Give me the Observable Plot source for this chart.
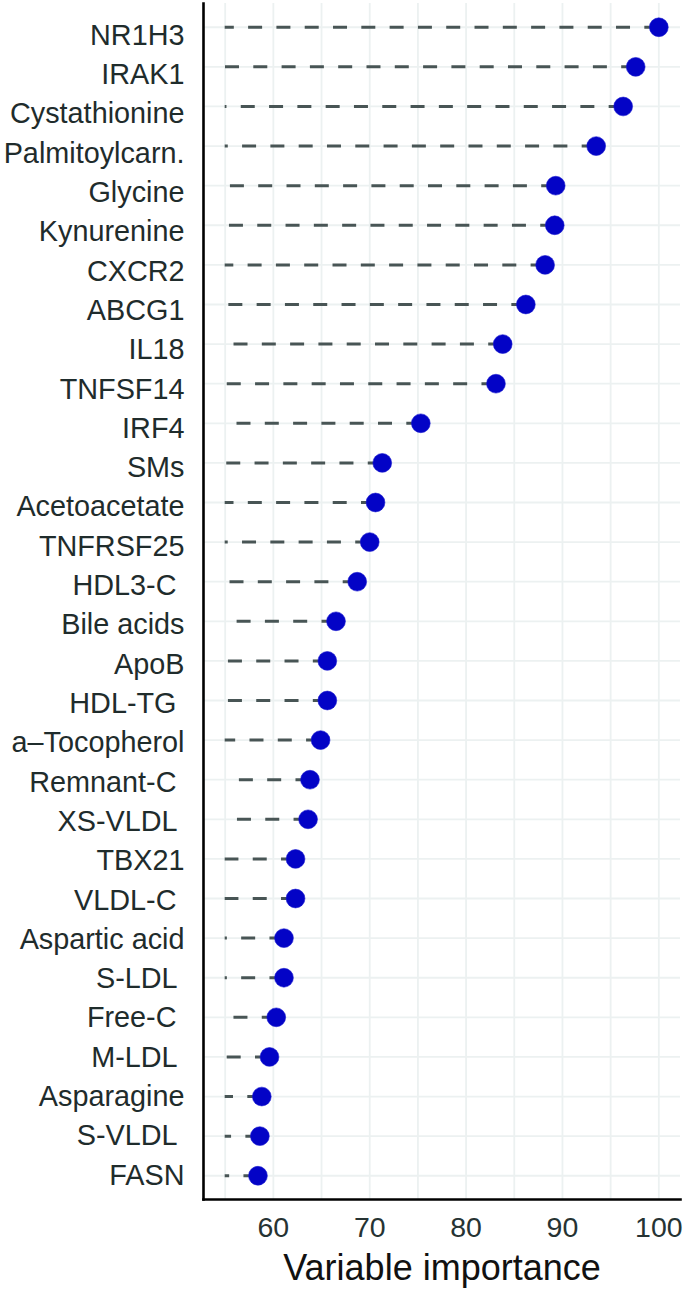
<!DOCTYPE html>
<html>
<head>
<meta charset="utf-8">
<script src="https://cdn.jsdelivr.net/npm/d3@7"></script>
<script src="https://cdn.jsdelivr.net/npm/@observablehq/plot@0.6"></script>
<style>
  html, body { margin: 0; padding: 0; background: #fff; }
  #wrap { position: relative; width: 684px; height: 1291px; }
  #wrap svg { position: absolute; top: 0; left: 0; }
  text { white-space: pre; }
</style>
</head>
<body>
<div id="wrap"></div>
<script>
const names = ["NR1H3","IRAK1","Cystathionine","Palmitoylcarn.","Glycine","Kynurenine","CXCR2","ABCG1","IL18","TNFSF14","IRF4","SMs","Acetoacetate","TNFRSF25","HDL3-C ","Bile acids","ApoB","HDL-TG ","a\u2013Tocopherol","Remnant-C ","XS-VLDL ","TBX21","VLDL-C ","Aspartic acid","S-LDL ","Free-C ","M-LDL ","Asparagine","S-VLDL ","FASN"];
const importance = [100.0,97.6,96.3,93.5,89.3,89.2,88.2,86.2,83.8,83.1,75.3,71.3,70.6,70.0,68.7,66.5,65.6,65.6,64.9,63.8,63.6,62.3,62.3,61.1,61.1,60.3,59.6,58.8,58.6,58.4];
const segmentStart = 55;
const xDomain = [52.75, 102.25];
const xTicks = [60, 70, 80, 90, 100];
const xGrid = [55, 60, 65, 70, 75, 80, 85, 90, 95, 100];
const xTitle = "Variable importance";

const data = names.map((n, i) => ({name: n, value: importance[i], start: segmentStart}));

const gridColor = "#ecf1f1";
const font = "'Liberation Sans', Arial, Helvetica, sans-serif";

const main = Plot.plot({
  width: 684,
  height: 1291,
  marginLeft: 203,
  marginRight: 4,
  marginTop: 3,
  marginBottom: 92,
  style: {fontFamily: font, background: "transparent", overflow: "visible"},
  x: {domain: xDomain, axis: null},
  y: {domain: names, type: "point", padding: 0.6, round: false, axis: null},
  marks: [
    Plot.gridX(xGrid, {stroke: gridColor, strokeOpacity: 1, strokeWidth: 1.8}),
    Plot.gridY(names, {stroke: gridColor, strokeOpacity: 1, strokeWidth: 1.8}),
    Plot.ruleY(data, {y: "name", x1: "value", x2: "start", stroke: "#485555", strokeWidth: 3, strokeDasharray: "14 14.3"}),
    Plot.dot(data, {x: "value", y: "name", r: 9.4, fill: "#0303c6", stroke: "#1a1ad0", strokeWidth: 0.6}),
    Plot.axisX(xTicks, {tickSize: 0, tickPadding: 17, fontSize: 28.5, fill: "#263333", label: null}),
    Plot.text([xTitle], {frameAnchor: "bottom", dy: 69, fontSize: 36, fill: "#111", lineAnchor: "middle"}),
    Plot.frame({anchor: "left", stroke: "#000", strokeWidth: 2.6}),
    Plot.frame({anchor: "bottom", stroke: "#000", strokeWidth: 2.6})
  ]
});

const labels = Plot.plot({
  width: 200,
  height: 1291,
  marginLeft: 0,
  marginRight: 16,
  marginTop: 11.4,
  marginBottom: 92.4,
  style: {fontFamily: font, background: "transparent", overflow: "visible"},
  x: {axis: null},
  y: {domain: names, type: "point", padding: 0.6, round: false, axis: null},
  marks: [
    Plot.text(names, {y: d => d, frameAnchor: "right", textAnchor: "end", fontSize: 28.8, fill: "#1f2c2c"})
  ]
});

const wrap = document.getElementById("wrap");
wrap.appendChild(main);
wrap.appendChild(labels);
</script>
</body>
</html>
